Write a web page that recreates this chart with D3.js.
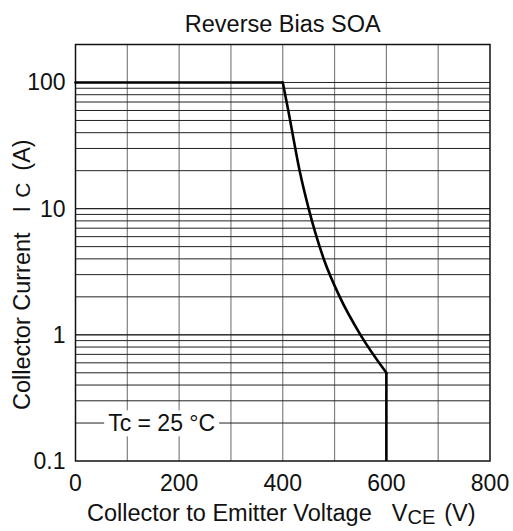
<!DOCTYPE html>
<html>
<head>
<meta charset="utf-8">
<script src="https://cdn.jsdelivr.net/npm/d3@7"></script>
<style>
body { margin: 0; background: #fff; }
text { font-family: "Liberation Sans", Arial, sans-serif; fill: #111; }
</style>
</head>
<body>
<svg id="chart" width="513" height="531"></svg>
<script>
var xTicks = [0, 200, 400, 600, 800];
var yTicks = [0.1, 1, 10, 100];
var yTickLabels = ["0.1", "1", "10", "100"];
// flat limit, curved fall, vertical limit
var flatV = [0, 400];
var flatI = [100, 100];
var fallV = [400, 410, 433, 450, 480, 510, 550, 600];
var fallI = [100, 62, 19.6, 10, 3.9, 2, 1, 0.5];
var dropV = [600, 600];
var dropI = [0.5, 0.1];

var margin = {left: 75.5, top: 44.5, right: 23, bottom: 70};
var width = 513 - margin.left - margin.right;
var height = 531 - margin.top - margin.bottom;

var svg = d3.select('#chart');
var g = svg.append('g')
    .attr('transform', 'translate(' + margin.left + ',' + margin.top + ')');

var xScale = d3.scaleLinear().domain([0, 800]).range([0, width]);
var yScale = d3.scaleLog().domain([0.1, 200]).range([height, 0]);

// vertical grid
g.selectAll('.vgrid')
    .data(d3.range(100, 800, 100))
    .enter()
    .append('line')
    .attr('x1', xScale).attr('x2', xScale)
    .attr('y1', 0).attr('y2', height)
    .style('stroke', '#808080')
    .style('stroke-width', 1.2);

// horizontal grid (1..9 per decade)
var hLines = [];
[0.1, 1, 10].forEach(function (dec) {
    for (var k = 1; k <= 10; k++) {
        if (dec == 0.1 && k == 1) continue;
        hLines.push(dec * k);
    }
});
g.selectAll('.hgrid')
    .data(hLines)
    .enter()
    .append('line')
    .attr('x1', 0).attr('x2', width)
    .attr('y1', yScale).attr('y2', yScale)
    .style('stroke', '#222')
    .style('stroke-width', 1);

// Tc label with white box
var tcY = yScale(0.2);
var tcText = g.append('text')
    .attr('x', xScale(63))
    .attr('y', tcY + 8.3)
    .style('font-size', '23px')
    .text('Tc = 25 °C');
var bb = tcText.node().getBBox();
g.insert('rect', 'text')
    .attr('x', bb.x - 4).attr('y', bb.y)
    .attr('width', bb.width + 8).attr('height', bb.height)
    .style('fill', '#fff');

// border
g.append('rect')
    .attr('x', 0).attr('y', 0)
    .attr('width', width).attr('height', height)
    .style('fill', 'none')
    .style('stroke', '#111')
    .style('stroke-width', 1.5);

// curve
var straight = d3.line()
    .x(function (d) { return xScale(d[0]); })
    .y(function (d) { return yScale(d[1]); });
var smooth = d3.line()
    .x(function (d) { return xScale(d[0]); })
    .y(function (d) { return yScale(d[1]); })
    .curve(d3.curveMonotoneX);
var curveStyle = function (sel) {
    sel.style('fill', 'none')
        .style('stroke', '#000')
        .style('stroke-width', 2.6)
        .style('stroke-linejoin', 'round')
        .style('stroke-linecap', 'round');
};
g.append('path').datum(d3.zip(flatV, flatI)).attr('d', straight).call(curveStyle);
g.append('path').datum(d3.zip(fallV, fallI)).attr('d', smooth).call(curveStyle);
g.append('path').datum(d3.zip(dropV, dropI)).attr('d', straight).call(curveStyle)
    .style('stroke-linecap', 'butt');

// tick labels
g.selectAll('.xlab')
    .data(xTicks)
    .enter()
    .append('text')
    .attr('x', xScale)
    .attr('y', height + 29.5)
    .attr('text-anchor', 'middle')
    .style('font-size', '23px')
    .text(function (d) { return d; });

g.selectAll('.ylab')
    .data(yTicks)
    .enter()
    .append('text')
    .attr('x', -10)
    .attr('y', function (d) { return yScale(d) + 8; })
    .attr('text-anchor', 'end')
    .style('font-size', '23px')
    .text(function (d, i) { return yTickLabels[i]; });

// title
svg.append('text')
    .attr('x', margin.left + width / 2)
    .attr('y', 32)
    .attr('text-anchor', 'middle')
    .style('font-size', '23.5px')
    .text('Reverse Bias SOA');

// x axis label
var xl = svg.append('text')
    .attr('x', 87)
    .attr('y', 521)
    .style('font-size', '23.5px');
xl.append('tspan').text('Collector to Emitter Voltage');
xl.append('tspan').attr('dx', 20).text('V');
xl.append('tspan').attr('dy', 2.5).style('font-size', '20px').text('CE');
xl.append('tspan').attr('dx', 9).attr('dy', -2.5).text('(V)');

// y axis label
var yl = svg.append('text')
    .attr('transform', 'translate(30,410) rotate(-90)')
    .style('font-size', '23.5px');
yl.append('tspan').text('Collector Current');
yl.append('tspan').attr('dx', 20).text('I');
yl.append('tspan').attr('dx', 8).style('font-size', '21px').text('C');
yl.append('tspan').attr('dx', 12).text('(A)');
</script>
</body>
</html>
